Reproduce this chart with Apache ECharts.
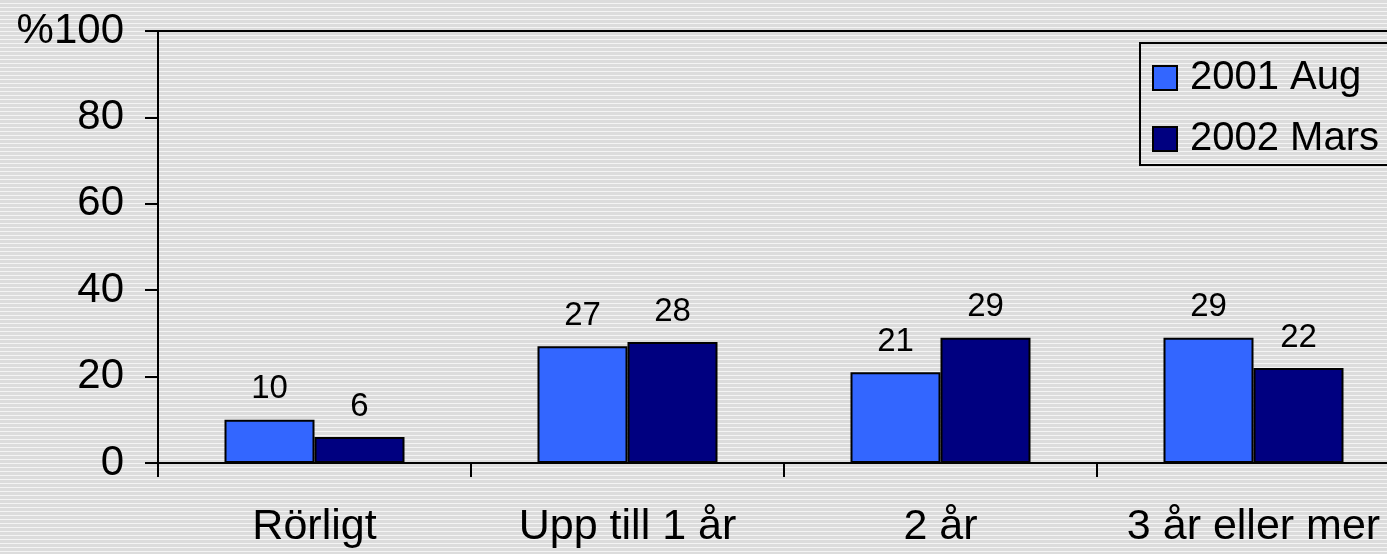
<!DOCTYPE html>
<html>
<head>
<meta charset="utf-8">
<script src="https://cdn.jsdelivr.net/npm/echarts@6/dist/echarts.min.js"></script>
<style>
html,body{margin:0;padding:0;}
body{background:repeating-linear-gradient(to bottom,#dcdcdc 0px,#dcdcdc 3px,#f4f4f4 3px,#f4f4f4 4px);}
#chart{width:1387px;height:554px;}
</style>
</head>
<body>
<div id="chart"></div>
<script>
var categories = ['Rörligt', 'Upp till 1 år', '2 år', '3 år eller mer'];
var seriesNames = ['2001 Aug', '2002 Mars'];
var aug2001 = [10, 27, 21, 29];
var mars2002 = [6, 28, 29, 22];
var yTicks = [0, 20, 40, 60, 80, 100];

var font = '"Liberation Sans", Arial, sans-serif';
var chart = echarts.init(document.getElementById('chart'), null, {renderer: 'canvas'});
var labelCfg = {
  show: true, position: 'top', distance: 14,
  color: '#000', fontFamily: font, fontSize: 33
};
chart.setOption({
  backgroundColor: 'transparent',
  animation: false,
  grid: {
    left: 158, top: 31, height: 432, width: 1252,
    outerBoundsMode: 'none', containLabel: false,
    show: true, borderColor: '#000', borderWidth: 2, backgroundColor: 'transparent'
  },
  legend: {
    orient: 'vertical',
    left: 1140, top: 43,
    data: seriesNames,
    itemWidth: 24, itemHeight: 24, itemGap: 21,
    borderColor: '#000', borderWidth: 2,
    padding: [15, 40, 6, 12],
    textStyle: {fontFamily: font, fontSize: 40, color: '#000', padding: [0, 0, 0, 8]},
    icon: 'rect'
  },
  xAxis: {
    type: 'category',
    data: categories,
    axisLine: {lineStyle: {color: '#000', width: 2}},
    axisTick: {show: true, interval: 0, length: 14, lineStyle: {color: '#000', width: 2}},
    axisLabel: {color: '#000', fontFamily: font, fontSize: 43, margin: 43, interval: 0},
    splitLine: {show: false}
  },
  yAxis: {
    type: 'value',
    min: yTicks[0], max: yTicks[yTicks.length - 1], interval: 20,
    axisLine: {show: true, lineStyle: {color: '#000', width: 2}},
    axisTick: {show: true, length: 13, lineStyle: {color: '#000', width: 2}},
    axisLabel: {
      color: '#000', fontFamily: font, fontSize: 42, margin: 34,
      formatter: function (v) { return v === 100 ? '%100' : String(v); }
    },
    splitLine: {show: false}
  },
  series: [
    {
      name: seriesNames[0], type: 'bar', data: aug2001,
      barWidth: 90, barGap: '0%',
      itemStyle: {color: '#3366FF', borderColor: '#000', borderWidth: 2},
      label: labelCfg
    },
    {
      name: seriesNames[1], type: 'bar', data: mars2002,
      barWidth: 90, barGap: '0%',
      itemStyle: {color: '#000080', borderColor: '#000', borderWidth: 2},
      label: labelCfg
    }
  ]
});
</script>
</body>
</html>
